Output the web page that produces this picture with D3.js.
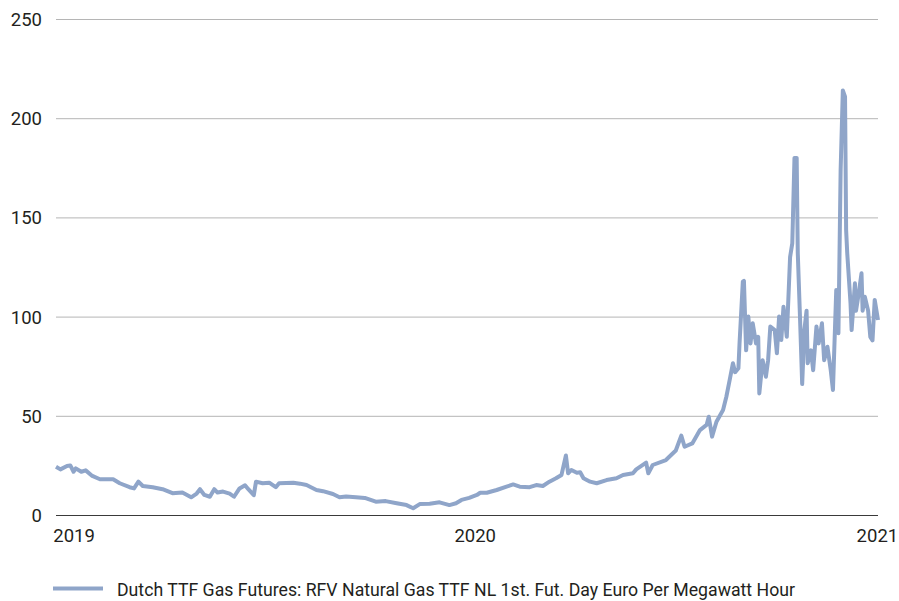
<!DOCTYPE html>
<html>
<head>
<meta charset="utf-8">
<script src="https://cdn.jsdelivr.net/npm/d3@7"></script>
<style>
  html, body { margin: 0; padding: 0; background: #fff; }
  svg { display: block; }
  text { font-family: Roboto, "Noto Sans", sans-serif; fill: #231f20; }
</style>
</head>
<body>
<svg id="chart" width="899" height="601"></svg>
<script>
const dates = [
  "2018-12-16","2018-12-20","2018-12-26","2018-12-29","2019-01-01","2019-01-03","2019-01-08","2019-01-12",
  "2019-01-18","2019-01-25","2019-02-06","2019-02-12","2019-02-21","2019-02-25","2019-03-01","2019-03-05",
  "2019-03-14","2019-03-23","2019-04-01","2019-04-10","2019-04-18","2019-04-23","2019-04-26","2019-04-30",
  "2019-05-05","2019-05-09","2019-05-12","2019-05-17","2019-05-23","2019-05-27","2019-06-01","2019-06-06",
  "2019-06-09","2019-06-14","2019-06-16","2019-06-22","2019-06-28","2019-07-04","2019-07-07","2019-07-20",
  "2019-07-26","2019-08-01","2019-08-05","2019-08-10","2019-08-16","2019-08-25","2019-08-31","2019-09-06",
  "2019-09-15","2019-09-23","2019-10-03","2019-10-12","2019-10-22","2019-10-31","2019-11-06","2019-11-12",
  "2019-11-21","2019-11-30","2019-12-09","2019-12-15","2019-12-20","2019-12-27",
  "2020-01-03","2020-01-06","2020-01-12","2020-01-21","2020-01-30","2020-02-05","2020-02-11","2020-02-20",
  "2020-02-26","2020-03-03","2020-03-09","2020-03-15","2020-03-20","2020-03-24","2020-03-26","2020-03-29",
  "2020-04-03","2020-04-06","2020-04-09","2020-04-15","2020-04-21","2020-04-30","2020-05-09","2020-05-15",
  "2020-05-24","2020-05-27","2020-06-05","2020-06-07","2020-06-11","2020-06-23","2020-07-02","2020-07-07",
  "2020-07-10","2020-07-17","2020-07-24","2020-07-30","2020-08-01","2020-08-04","2020-08-08","2020-08-14",
  "2020-08-17","2020-08-20","2020-08-23","2020-08-25","2020-08-28","2020-08-29","2020-09-01","2020-09-02",
  "2020-09-04","2020-09-06","2020-09-08","2020-09-10","2020-09-13","2020-09-15","2020-09-16","2020-09-19",
  "2020-09-22","2020-09-24","2020-09-26","2020-09-30","2020-10-02","2020-10-04","2020-10-06","2020-10-08",
  "2020-10-11","2020-10-14","2020-10-16","2020-10-18","2020-10-20","2020-10-21","2020-10-23","2020-10-25",
  "2020-10-27","2020-10-29","2020-10-30","2020-11-02","2020-11-04","2020-11-07","2020-11-09","2020-11-12",
  "2020-11-14","2020-11-17","2020-11-20","2020-11-22","2020-11-25","2020-11-27","2020-11-29","2020-12-01",
  "2020-12-03","2020-12-04","2020-12-05","2020-12-08","2020-12-09","2020-12-12","2020-12-13","2020-12-15",
  "2020-12-18","2020-12-19","2020-12-21","2020-12-24","2020-12-26","2020-12-28","2020-12-30","2021-01-02"
];
const values = [
  24.3,23.0,24.7,25.0,21.8,23.5,21.8,22.5,
  19.7,18.0,18.0,16.0,14.0,13.4,16.8,14.6,
  14.0,13.0,11.0,11.3,8.9,10.8,13.0,10.1,
  9.2,13.0,11.3,11.8,10.8,9.2,13.4,15.0,
  13.0,10.0,16.8,16.0,16.3,14.0,16.0,16.3,
  15.8,15.1,14.0,12.6,12.0,10.6,8.9,9.3,
  9.0,8.6,6.7,7.0,5.9,5.0,3.4,5.5,
  5.7,6.4,5.0,5.9,7.6,8.6,
  10.1,11.2,11.2,12.6,14.3,15.4,14.3,14.0,
  15.1,14.6,16.8,18.5,20.2,30.0,21.0,22.7,
  21.3,21.5,18.5,16.8,16.0,17.6,18.5,20.2,
  21.0,23.0,26.4,21.0,25.2,27.7,32.5,40.0,
  34.4,36.1,42.8,45.4,49.5,39.5,47.0,52.9,
  59.6,68.0,76.5,72.0,74.0,86.5,117.6,118.0,
  83.0,100.0,86.5,96.6,86.5,89.8,61.3,78.0,
  69.7,78.0,95.0,93.2,81.5,100.0,88.2,105.0,
  89.8,130.0,136.9,180.0,180.0,132.0,100.0,66.0,
  93.2,103.0,76.5,83.0,73.0,95.0,86.5,96.6,
  78.0,84.8,73.0,63.0,113.4,91.6,173.9,214.0,
  210.8,143.6,132.0,106.7,93.2,116.8,103.0,110.0,
  121.8,103.0,110.0,103.0,89.8,88.0,108.4,98.3
];
const yTicks = [0, 50, 100, 150, 200, 250];
const xTickLabels = ["2019", "2020", "2021"];
const seriesName = "Dutch TTF Gas Futures: RFV Natural Gas TTF NL 1st. Fut. Day Euro Per Megawatt Hour";

const parse = d3.timeParse("%Y-%m-%d");
const data = dates.map((d, i) => ({ date: parse(d), value: values[i] }));

const svg = d3.select("#chart");
const plotL = 56, plotR = 878, plotT = 19, plotB = 515;
const lineColor = "#8fa5c9";

const x = d3.scaleTime()
  .domain([parse("2018-12-16"), parse("2021-01-02")])
  .range([plotL, plotR]);
const y = d3.scaleLinear().domain([0, 250]).range([plotB, plotT]);

// Gridlines + y labels
const yAxis = d3.axisLeft(y).tickValues(yTicks).tickSize(-(plotR - plotL)).tickPadding(14);
const gy = svg.append("g").attr("transform", `translate(${plotL},0)`).call(yAxis);
gy.select(".domain").remove();
gy.selectAll(".tick line")
  .attr("stroke", d => d === 0 ? "#3a3a3a" : "#b5b5b5")
  .attr("stroke-width", 1);
gy.selectAll(".tick text")
  .attr("font-size", "18.5px")
  .attr("dy", "0.35em")
  .style("fill", "#231f20");

// X labels
const xAxis = d3.axisBottom(x)
  .tickValues(xTickLabels.map(s => parse(s + "-01-01")))
  .tickFormat(d3.timeFormat("%Y"))
  .tickSize(0).tickPadding(14);
const gx = svg.append("g").attr("transform", `translate(0,${plotB})`).call(xAxis);
gx.select(".domain").remove();
gx.selectAll(".tick text").attr("font-size", "18.5px").style("fill", "#231f20");

// Line
const line = d3.line().x(d => x(d.date)).y(d => y(d.value));
svg.append("path")
  .datum(data)
  .attr("fill", "none")
  .attr("stroke", lineColor)
  .attr("stroke-width", 4)
  .attr("stroke-linejoin", "round")
  .attr("d", line);

// Legend
const lg = svg.append("g");
lg.append("line").attr("x1", 53).attr("x2", 103).attr("y1", 588.5).attr("y2", 588.5)
  .attr("stroke", lineColor).attr("stroke-width", 4);
lg.append("text").attr("x", 117).attr("y", 595.5).attr("font-size", "18px")
  .attr("textLength", 678).attr("lengthAdjust", "spacingAndGlyphs")
  .text(seriesName);
</script>
</body>
</html>
